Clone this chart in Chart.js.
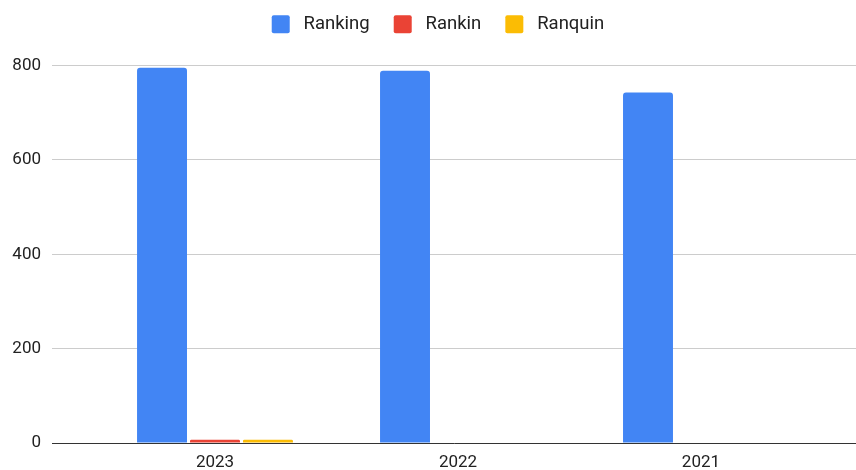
<!DOCTYPE html>
<html>
<head>
<meta charset="utf-8">
<script src="https://cdn.jsdelivr.net/npm/chart.js@4"></script>
<style>
  html, body { margin: 0; padding: 0; background: #fff; }
  #wrap { width: 856px; height: 470px; position: relative; }
</style>
</head>
<body>
<div id="wrap"><canvas id="chart"></canvas></div>
<script>
const years = ["2023", "2022", "2021"];
const ranking = [795, 789, 743];
const rankin = [7, 0, 0];
const ranquin = [7, 0, 0];
const yTicks = [0, 200, 400, 600, 800];

/* =========================
   HELPERS
========================= */
function toPoints(values) {
  return values.map((v, i) => ({ x: i, y: v }));
}

const font = { family: "Roboto, 'Liberation Sans', Arial, sans-serif", size: 17 };
const legendFont = { family: "Roboto, 'Liberation Sans', Arial, sans-serif", size: 18.5 };

// extra room under the legend, and nudge it a bit right
const legendGap = {
  id: "legendGap",
  beforeInit(chart) {
    const fit = chart.legend.fit;
    chart.legend.fit = function () {
      fit.bind(chart.legend)();
      this.height += 22;
    };
  },
  afterLayout(chart) {
    chart.legend.left += 10;
    chart.legend.right += 10;
  },
};

/* =========================
   CHART
========================= */
const ctx = document.getElementById("chart").getContext("2d");

new Chart(ctx, {
  type: "bar",
  data: {
    datasets: [
      { label: "Ranking", data: toPoints(ranking), backgroundColor: "#4285F4" },
      { label: "Rankin", data: toPoints(rankin), backgroundColor: "#EA4335" },
      { label: "Ranquin", data: toPoints(ranquin), backgroundColor: "#FBBC04" },
    ],
  },
  options: {
    responsive: true,
    maintainAspectRatio: false,
    animation: false,
    categoryPercentage: 0.654,
    barPercentage: 0.943,
    borderRadius: { topLeft: 3, topRight: 3 },
    borderSkipped: "bottom",
    layout: { padding: { top: -9 } },
    plugins: {
      tooltip: { enabled: false },
      legend: {
        position: "top",
        labels: {
          font: legendFont,
          color: "#222",
          boxWidth: 18,
          boxHeight: 18,
          padding: 24,
          useBorderRadius: true,
          borderRadius: 2,
          generateLabels: (chart) =>
            Chart.defaults.plugins.legend.labels
              .generateLabels(chart)
              .map((item) => ({ ...item, text: " " + item.text })),
        },
      },
    },
    scales: {
      x: {
        type: "linear",
        offset: false,
        min: -0.6708,
        max: 2.638,
        grid: { display: false, drawTicks: false },
        border: { display: true, color: "#333", width: 1 },
        afterBuildTicks: (scale) => {
          scale.ticks = years.map((y, i) => ({ value: i }));
        },
        afterFit: (scale) => {
          scale.height = 27;
        },
        ticks: {
          font: font,
          color: "#222",
          padding: 10,
          maxRotation: 0,
          callback: (v) => years[v],
        },
      },
      y: {
        min: 0,
        max: 800,
        afterBuildTicks: (scale) => {
          scale.ticks = yTicks.map((v) => ({ value: v }));
        },
        afterFit: (scale) => {
          scale.width = 52;
        },
        grid: { color: "#cccccc", drawTicks: false },
        border: { display: false },
        ticks: {
          font: font,
          color: "#222",
          padding: 11,
        },
      },
    },
  },
  plugins: [legendGap],
});
</script>
</body>
</html>
